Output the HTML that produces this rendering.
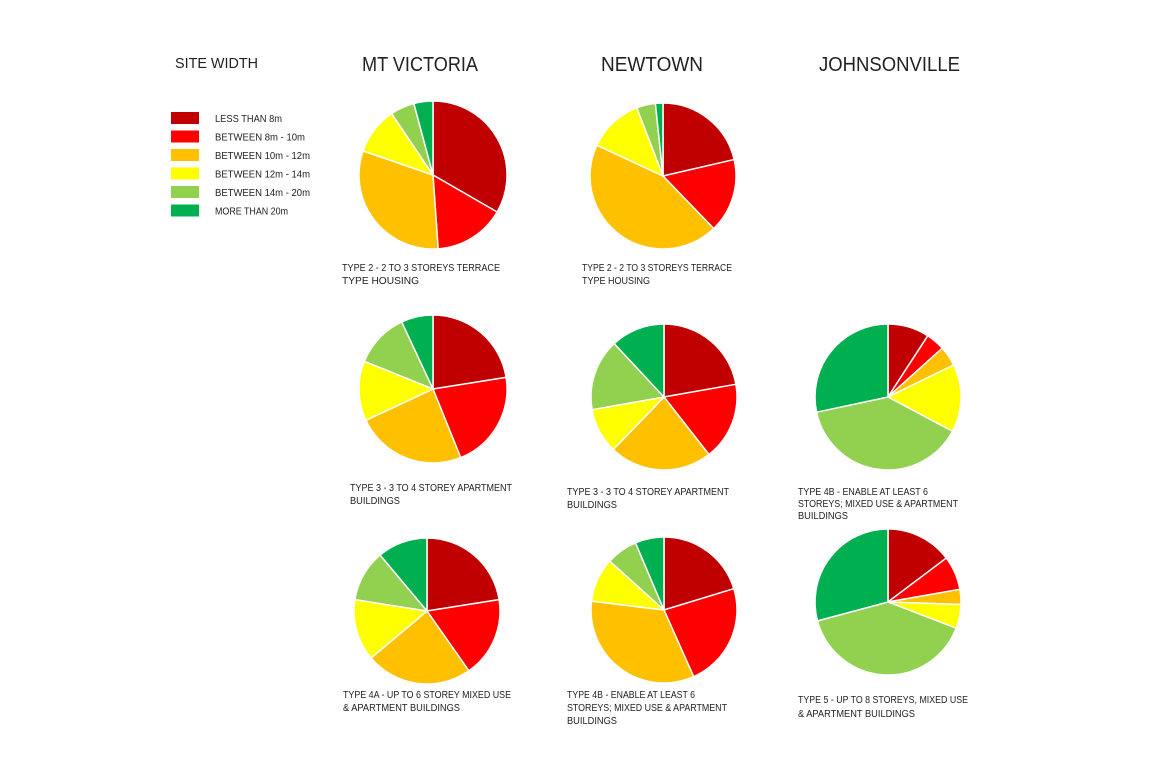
<!DOCTYPE html>
<html><head><meta charset="utf-8"><style>
html,body{margin:0;padding:0;background:#fff;}
svg{display:block;}
text{font-family:"Liberation Sans",sans-serif;fill:#222;}
</style></head><body>
<svg id="s" width="1155" height="774" viewBox="0 0 1155 774" xmlns="http://www.w3.org/2000/svg">
<rect width="1155" height="774" fill="#fff"/>
<text x="175" y="68" font-size="15" textLength="83" lengthAdjust="spacingAndGlyphs">SITE WIDTH</text>
<text x="362" y="71" font-size="20" textLength="116" lengthAdjust="spacingAndGlyphs">MT VICTORIA</text>
<text x="601" y="71" font-size="20" textLength="102" lengthAdjust="spacingAndGlyphs">NEWTOWN</text>
<text x="819" y="71" font-size="20" textLength="141" lengthAdjust="spacingAndGlyphs">JOHNSONVILLE</text>
<g id="legend"></g>
<g id="pies"></g>
<g font-size="10">
<text x="342" y="271" textLength="158" lengthAdjust="spacingAndGlyphs">TYPE 2 - 2 TO 3 STOREYS TERRACE</text>
<text x="342" y="284" textLength="77" lengthAdjust="spacingAndGlyphs">TYPE HOUSING</text>
<text x="582" y="271" textLength="150" lengthAdjust="spacingAndGlyphs">TYPE 2 - 2 TO 3 STOREYS TERRACE</text>
<text x="582" y="284" textLength="68" lengthAdjust="spacingAndGlyphs">TYPE HOUSING</text>
<text x="350" y="491" textLength="162" lengthAdjust="spacingAndGlyphs">TYPE 3 - 3 TO 4 STOREY APARTMENT</text>
<text x="350" y="504" textLength="50" lengthAdjust="spacingAndGlyphs">BUILDINGS</text>
<text x="567" y="495" textLength="162" lengthAdjust="spacingAndGlyphs">TYPE 3 - 3 TO 4 STOREY APARTMENT</text>
<text x="567" y="508" textLength="50" lengthAdjust="spacingAndGlyphs">BUILDINGS</text>
<text x="798" y="495" textLength="130" lengthAdjust="spacingAndGlyphs">TYPE 4B - ENABLE AT LEAST 6</text>
<text x="798" y="507" textLength="160" lengthAdjust="spacingAndGlyphs">STOREYS; MIXED USE &amp; APARTMENT</text>
<text x="798" y="519" textLength="50" lengthAdjust="spacingAndGlyphs">BUILDINGS</text>
<text x="343" y="698" textLength="168" lengthAdjust="spacingAndGlyphs">TYPE 4A - UP TO 6 STOREY MIXED USE</text>
<text x="343" y="711" textLength="117" lengthAdjust="spacingAndGlyphs">&amp; APARTMENT BUILDINGS</text>
<text x="567" y="698" textLength="128" lengthAdjust="spacingAndGlyphs">TYPE 4B - ENABLE AT LEAST 6</text>
<text x="567" y="711" textLength="160" lengthAdjust="spacingAndGlyphs">STOREYS; MIXED USE &amp; APARTMENT</text>
<text x="567" y="724" textLength="50" lengthAdjust="spacingAndGlyphs">BUILDINGS</text>
<text x="798" y="703" textLength="170" lengthAdjust="spacingAndGlyphs">TYPE 5 - UP TO 8 STOREYS, MIXED USE</text>
<text x="798" y="717" textLength="117" lengthAdjust="spacingAndGlyphs">&amp; APARTMENT BUILDINGS</text>
</g>
</svg>
<script>
var C=["#c00000","#ff0000","#ffc000","#ffff00","#92d050","#00b050"];
var NS="http://www.w3.org/2000/svg";
var L=["LESS THAN 8m","BETWEEN 8m - 10m","BETWEEN 10m - 12m","BETWEEN 12m - 14m","BETWEEN 14m - 20m","MORE THAN 20m"];
var lg=document.getElementById("legend");
L.forEach(function(t,i){
 var y=112+i*18.5;
 var r=document.createElementNS(NS,"rect");
 r.setAttribute("x",171);r.setAttribute("y",y);r.setAttribute("width",28);r.setAttribute("height",12);r.setAttribute("fill",C[i]);lg.appendChild(r);
 var tx=document.createElementNS(NS,"text");
 tx.setAttribute("x",215);tx.setAttribute("y",y+10);tx.setAttribute("font-size","10");
 tx.setAttribute("textLength",(t.length*5.6).toFixed(0));tx.setAttribute("lengthAdjust","spacingAndGlyphs");
 tx.textContent=t;lg.appendChild(tx);
});
var P=[
 [433,175,74,[0,120,176,289,326,345,360]],
 [663,176,73,[0,77,136,295,339,354,360]],
 [433,389,74,[0,81,158,245,292,335,360]],
 [664,397,73,[0,80,142,224,260,317,360]],
 [888,397,73,[0,33,48,64,118,258,360]],
 [427,611,73,[0,81,145,230,279,320,360]],
 [664,610,73,[0,73,156,277,312,337,360]],
 [888,602,73,[0,53,80,92,111,255,360]]
];
var g=document.getElementById("pies");
function pt(cx,cy,r,a){a=a*Math.PI/180;return [cx+r*Math.sin(a),cy-r*Math.cos(a)];}
P.forEach(function(p){
 var cx=p[0],cy=p[1],r=p[2],a=p[3];
 for(var i=0;i<6;i++){
  var a0=a[i],a1=a[i+1];
  var s=pt(cx,cy,r,a0),e=pt(cx,cy,r,a1);
  var d="M"+cx+","+cy+"L"+s[0].toFixed(2)+","+s[1].toFixed(2)+"A"+r+","+r+" 0 "+((a1-a0)>180?1:0)+" 1 "+e[0].toFixed(2)+","+e[1].toFixed(2)+"Z";
  var path=document.createElementNS(NS,"path");
  path.setAttribute("d",d);path.setAttribute("fill",C[i]);path.setAttribute("stroke","#fff");path.setAttribute("stroke-width","1.5");path.setAttribute("stroke-linejoin","round");
  g.appendChild(path);
 }
});
</script>
</body></html>
